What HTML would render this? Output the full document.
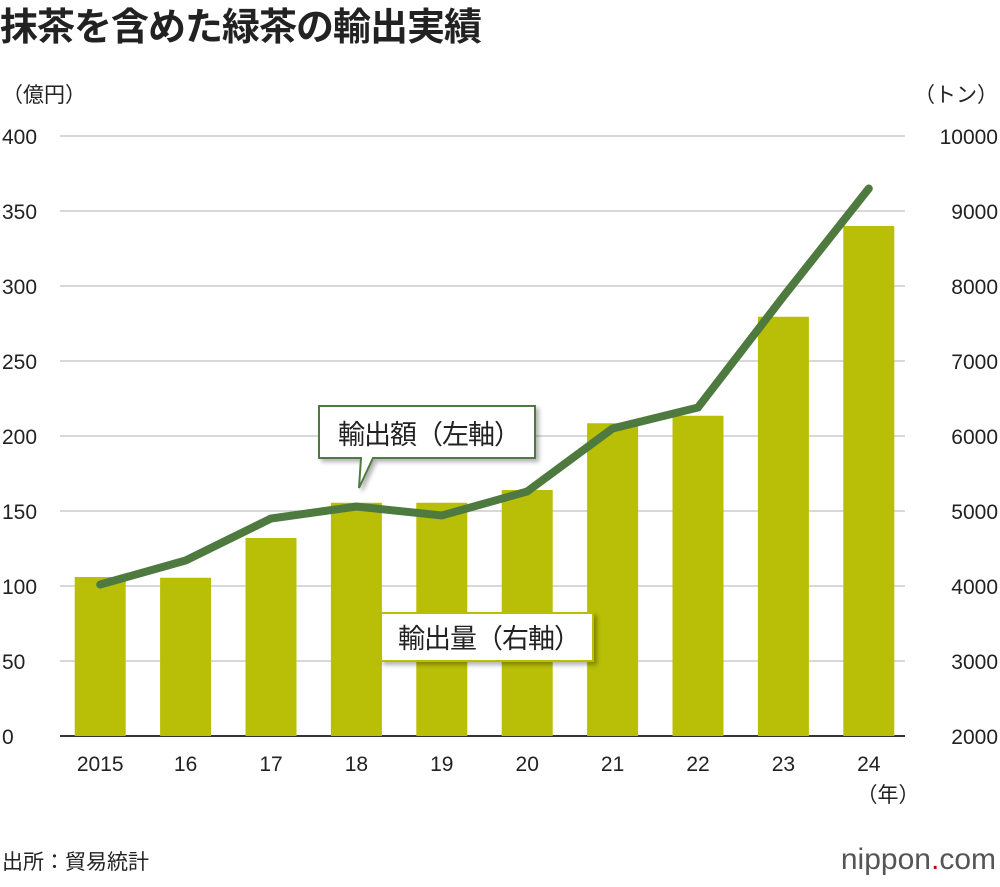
<!DOCTYPE html>
<html><head><meta charset="utf-8">
<style>
body{margin:0;background:#fff;width:1000px;height:882px;overflow:hidden;font-family:"Liberation Sans","Noto Sans CJK JP",sans-serif}
</style></head>
<body>
<svg id="chart" width="1000" height="882" xmlns="http://www.w3.org/2000/svg" font-family="'Liberation Sans','Noto Sans CJK JP',sans-serif">
<defs><filter id="sh" x="-10%" y="-10%" width="130%" height="140%"><feDropShadow dx="3" dy="3" stdDeviation="2" flood-color="#000" flood-opacity="0.3"/></filter></defs>
<text x="0" y="40" font-size="38" font-weight="bold" fill="#222" letter-spacing="-1">抹茶を含めた緑茶の輸出実績</text>
<text x="2" y="102" font-size="21" fill="#222">（億円）</text>
<text x="998" y="102" font-size="21" fill="#222" text-anchor="end">（トン）</text>
<g id="grid"></g><g id="bars"></g><g id="line"></g><g id="axes"></g>
<g filter="url(#sh)">
<path d="M319,406 H535 V458 H373 L359,488 L361,458 H319 Z" fill="#fff" stroke="#4f7a3f" stroke-width="2"/>
</g>
<text x="429" y="444" font-size="27" text-anchor="middle" fill="#222" letter-spacing="-1">輸出額（左軸）</text>
<rect x="381" y="613" width="212" height="48" fill="#fff" stroke="#b9bf06" stroke-width="2" filter="url(#sh)"/>
<text x="489" y="648" font-size="27" text-anchor="middle" fill="#222" letter-spacing="-1">輸出量（右軸）</text>
<text x="888" y="802" font-size="21" text-anchor="middle" fill="#222">（年）</text>
<text x="2" y="869" font-size="21" fill="#222">出所：貿易統計</text>
<text x="996" y="869" font-size="30" text-anchor="end" fill="#555">nippon<tspan fill="#c00">.</tspan>com</text>
</svg>
<script>
const categories=["2015","16","17","18","19","20","21","22","23","24"];
const volume=[4120,4110,4640,5110,5110,5280,6170,6270,7590,8800];
const value=[101,117,145,153,147,163,205,219,293,365];
const leftTicks=[0,50,100,150,200,250,300,350,400];
const rightTicks=[2000,3000,4000,5000,6000,7000,8000,9000,10000];
const NS="http://www.w3.org/2000/svg";
const x0=57.5,bw=85.4,plotTop=136,plotBot=736;
const yL=v=>plotBot-(v/400)*(plotBot-plotTop);
const yR=v=>plotBot-((v-2000)/8000)*(plotBot-plotTop);
const xc=i=>x0+bw*(i+0.5);
function mk(t,a,p){const e=document.createElementNS(NS,t);for(const k in a)e.setAttribute(k,a[k]);p.appendChild(e);return e;}
const g=document.getElementById('grid'),b=document.getElementById('bars'),l=document.getElementById('line'),ax=document.getElementById('axes');
leftTicks.forEach((t,i)=>{
 const ln=mk('line',{x1:60,x2:905,y1:yL(t),y2:yL(t),stroke:t===0?'#333':'#ccc','stroke-width':t===0?2:1.5},g);
 
 
 const tx=mk('text',{x:2,y:yL(t)+8,'font-size':21,fill:'#222'},ax);tx.textContent=t;
 
 
});
rightTicks.forEach(t=>{
 const tx=mk('text',{x:998,y:yR(t)+8,'font-size':21,fill:'#222','text-anchor':'end'},ax);tx.textContent=t;
 
 
});
categories.forEach((c,i)=>{
 const r=mk('rect',{x:xc(i)-25.5,y:yR(volume[i]),width:51,height:plotBot-yR(volume[i]),fill:'#b9bf06'},b);
 
 
 const tx=mk('text',{x:xc(i),y:771,'font-size':21,fill:'#222','text-anchor':'middle'},ax);tx.textContent=c;
 
 
});
const pl=mk('polyline',{points:value.map((v,i)=>xc(i)+','+yL(v)).join(' '),fill:'none',stroke:'#4f7a3f','stroke-width':8,'stroke-linejoin':'miter','stroke-linecap':'round'},l);


</script>
</body></html>
